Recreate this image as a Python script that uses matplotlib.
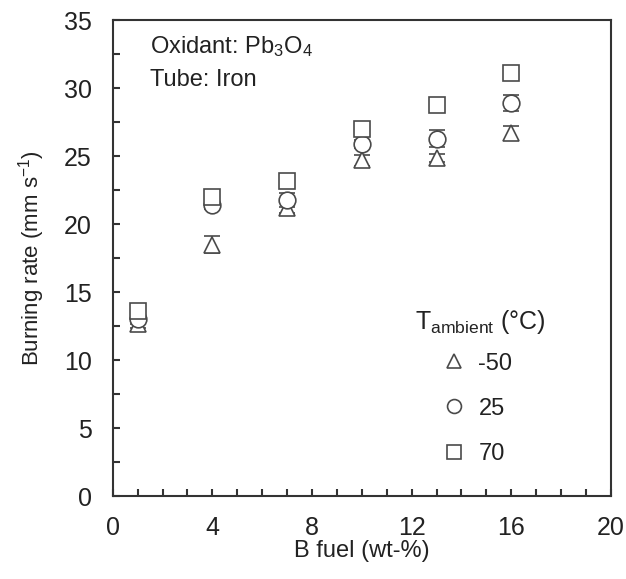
import matplotlib.pyplot as plt
from matplotlib.ticker import MultipleLocator

plt.rcParams['font.family'] = ['Liberation Sans', 'DejaVu Sans']
plt.rcParams['mathtext.fontset'] = 'custom'
plt.rcParams['mathtext.rm'] = 'Liberation Sans'
plt.rcParams['mathtext.it'] = 'Liberation Sans'

# B fuel content (wt-%)
fuel = [1, 4, 7, 10, 13, 16]

# burning rates (mm/s) per ambient temperature
rate_m50 = [12.7, 18.5, 21.2, 24.7, 24.9, 26.7]
err_m50 = [0.3, 0.6, 0.4, 0.4, 0.3, 0.5]
rate_25 = [13.0, 21.4, 21.8, 25.9, 26.3, 28.9]
err_25 = [0.3, 0.3, 0.5, 0.3, 0.6, 0.6]
rate_70 = [13.6, 22.0, 23.2, 27.0, 28.8, 31.1]
err_70 = [0.3, 0.3, 0.3, 0.3, 0.2, 0.2]

labels = ["-50", "25", "70"]

fig, ax = plt.subplots(figsize=(6.26, 5.79), dpi=100)
fig.subplots_adjust(left=0.18, right=0.976, top=0.965, bottom=0.143)

col = '#4a4a4a'
for r, e, m, lab in [(rate_m50, err_m50, '^', labels[0]),
                     (rate_25, err_25, 'o', labels[1]),
                     (rate_70, err_70, 's', labels[2])]:
    ax.errorbar(fuel, r, yerr=e, fmt=m, ms=12, mfc='white', mec=col, mew=1.2,
                ecolor=col, elinewidth=1.2, capsize=6, capthick=1.5, label=lab)

ax.set_xlim(0, 20)
ax.set_ylim(0, 35)
ax.xaxis.set_major_locator(MultipleLocator(4))
ax.xaxis.set_minor_locator(MultipleLocator(1))
ax.yaxis.set_major_locator(MultipleLocator(5))
ax.yaxis.set_minor_locator(MultipleLocator(2.5))
ax.tick_params(which='both', direction='in', length=5, width=1.5, color='#333333',
               labelsize=18, labelcolor='#222222')
ax.tick_params(axis='y', pad=15)
ax.tick_params(axis='x', pad=14)
ax.tick_params(which='both', top=False, right=False)
for s in ax.spines.values():
    s.set_linewidth(1.5)
    s.set_color('#333333')

ax.set_xlabel("B fuel (wt-%)", fontsize=17, labelpad=0, color='#222222')
ax.set_ylabel("Burning rate (mm s$^{-1}$)", fontsize=16, labelpad=12, color='#222222')

ax.text(0.075, 0.93, "Oxidant: Pb$_3$O$_4$", transform=ax.transAxes, fontsize=17,
        color='#222222')
ax.text(0.075, 0.862, "Tube: Iron", transform=ax.transAxes, fontsize=17,
        color='#222222')

# legend title drawn as text, legend itself without error bars
ax.text(0.606, 0.366, "T$_{\\mathrm{ambient}}$ (°C)", transform=ax.transAxes,
        fontsize=18, color='#222222', va='center', ha='left')
handles = []
for m, lab in zip(['^', 'o', 's'], labels):
    h, = ax.plot([], [], m, ms=10, mfc='white', mec=col, mew=1.2, ls='none', label=lab)
    handles.append(h)
leg = ax.legend(handles=handles, loc='lower left', bbox_to_anchor=(0.637, 0.041),
                frameon=False, fontsize=17, labelspacing=0.98, handlelength=1.0,
                handletextpad=0.55, labelcolor='#222222', borderpad=0)

fig.savefig("out.png", dpi=100)
